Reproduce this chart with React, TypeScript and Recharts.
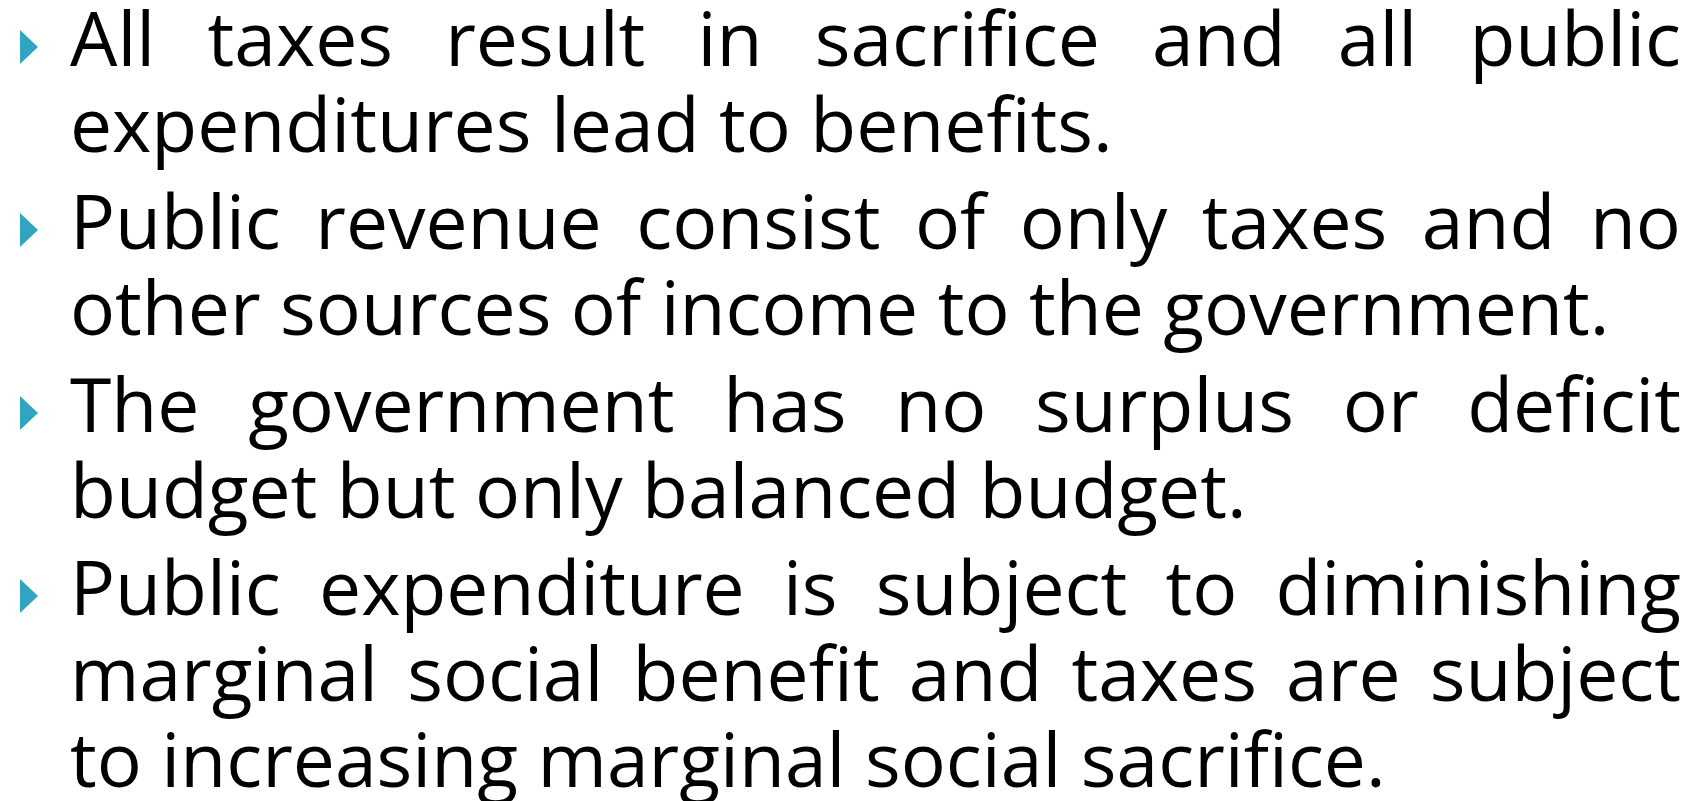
import { ScatterChart, Scatter, XAxis, YAxis } from "recharts";

// slide text, one array per bullet, one string per printed line
const bulletOne = [
  "All taxes result in sacrifice and all public",
  "expenditures lead to benefits.",
];
const bulletTwo = [
  "Public revenue consist of only taxes and no",
  "other sources of income to the government.",
];
const bulletThree = [
  "The government has no surplus or deficit",
  "budget but only balanced budget.",
];
const bulletFour = [
  "Public expenditure is subject to diminishing",
  "marginal social benefit and taxes are subject",
  "to increasing marginal social sacrifice.",
];
const bullets = [bulletOne, bulletTwo, bulletThree, bulletFour];

const WIDTH = 1702;
const HEIGHT = 801;
const TEXT_LEFT = 70;
const TEXT_RIGHT = 1681;
const LINE_PX = 86;
const FIRST_BASELINE = 66;
const PARA_GAP = 11 / LINE_PX;
const FONT = "Open Sans";
const FONT_SIZE = 75;
const BULLET_COLOR = "#2fa5c1";

if (typeof document !== "undefined") document.body.style.margin = "0";

type Row = { x: number; y: number; text: string; first: boolean; last: boolean };

const rows: Row[] = [];
let slot = 0;
bullets.forEach((lines, p) => {
  lines.forEach((text, i) => {
    rows.push({
      x: 0,
      y: slot + p * PARA_GAP,
      text,
      first: i === 0,
      last: i === lines.length - 1,
    });
    slot += 1;
  });
});

let ctx: CanvasRenderingContext2D | null = null;
function measure(s: string) {
  if (!ctx) {
    ctx = document.createElement("canvas").getContext("2d");
    if (ctx) ctx.font = `${FONT_SIZE}px "${FONT}"`;
  }
  return ctx ? ctx.measureText(s).width : s.length * FONT_SIZE * 0.5;
}

function LineShape(props: any) {
  const { cx, cy, payload } = props;
  const row = payload as Row;
  const words = row.text.split(" ");
  const widths = words.map(measure);
  const total = widths.reduce((a, b) => a + b, 0);
  const span = TEXT_RIGHT - TEXT_LEFT;
  let gap = measure(" ");
  if (!row.last && words.length > 1) gap = (span - total) / (words.length - 1);

  let x = cx;
  const items = words.map((w, i) => {
    const el = (
      <text
        key={i}
        x={x}
        y={cy}
        fontFamily={FONT}
        fontSize={FONT_SIZE}
        fill="#000"
      >
        {w}
      </text>
    );
    x += widths[i] + gap;
    return el;
  });

  return (
    <g>
      {row.first && (
        <polygon
          points={`${cx - 50},${cy - 36} ${cx - 32},${cy - 19} ${cx - 50},${cy - 2}`}
          fill={BULLET_COLOR}
        />
      )}
      {items}
    </g>
  );
}

export default function App() {
  return (
    <div style={{ width: WIDTH, height: HEIGHT, background: "#fff" }}>
      <ScatterChart
        width={WIDTH}
        height={HEIGHT}
        margin={{ top: 0, right: WIDTH - TEXT_RIGHT, bottom: 0, left: TEXT_LEFT }}
      >
        <XAxis type="number" dataKey="x" domain={[0, 1]} hide />
        <YAxis
          type="number"
          dataKey="y"
          domain={[-FIRST_BASELINE / LINE_PX, (HEIGHT - FIRST_BASELINE) / LINE_PX]}
          reversed
          hide
        />
        <Scatter data={rows} isAnimationActive={false} shape={(p: any) => <LineShape {...p} />} />
      </ScatterChart>
    </div>
  );
}
